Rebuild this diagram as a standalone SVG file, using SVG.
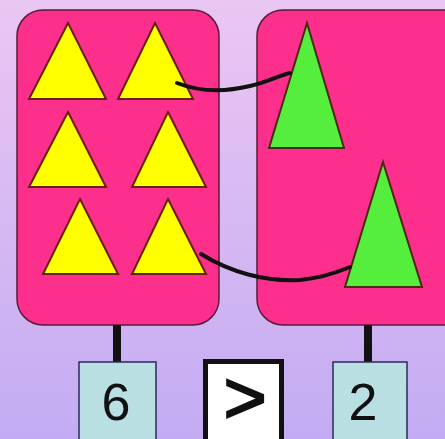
<svg xmlns="http://www.w3.org/2000/svg" width="445" height="439" viewBox="0 0 445 439">
<defs>
<linearGradient id="bg" x1="0" y1="0" x2="0" y2="1">
<stop offset="0" stop-color="#eac6f2"/>
<stop offset="1" stop-color="#c3acf3"/>
</linearGradient>
</defs>
<style>
.box{fill:#fd2f8d;stroke:#5a1a3a;stroke-width:1.5}
.yt{fill:#ffff00;stroke:#6a2010;stroke-width:2;stroke-linejoin:miter}
.gt{fill:#55ee3c;stroke:#4a2a10;stroke-width:2}
.stem{stroke:#111;stroke-width:8}
.conn{fill:none;stroke:#111;stroke-width:4;stroke-linecap:round}
.num{fill:#b9dfe2;stroke:#2a2a5a;stroke-width:1.5}
.t{font-family:"Liberation Sans",Arial,sans-serif;fill:#111;text-anchor:middle}
</style>
<rect x="0" y="0" width="445" height="439" fill="url(#bg)"/>
<g id="left-set">
<rect class="box" x="17" y="10" width="202" height="315" rx="26"/>
<polygon class="yt" points="68,23 106,99 29,99"/>
<polygon class="yt" points="155,23 193,99 118,99"/>
<polygon class="yt" points="68,112 106,187 29,187"/>
<polygon class="yt" points="168,112 206,187 132,187"/>
<polygon class="yt" points="80,199 118,274 43,274"/>
<polygon class="yt" points="168,199 206,274 132,274"/>
</g>
<g id="right-set">
<rect class="box" x="257" y="10" width="215" height="315" rx="26"/>
<polygon class="gt" points="307,23 344,148 269,148"/>
<polygon class="gt" points="383,162 422,287 345,287"/>
</g>
<g id="connectors">
<path class="conn" d="M177,83 C200,92 225,92 250,86 C268,82 280,75 290,73"/>
<path class="conn" d="M201,254 C230,272 265,282 300,280 C322,278 338,272 350,267"/>
<line class="stem" x1="117" y1="325" x2="117" y2="363"/>
<line class="stem" x1="368" y1="325" x2="368" y2="363"/>
</g>
<g id="count-left">
<rect class="num" x="79" y="362" width="77" height="90"/>
<text class="t" x="116" y="420" font-size="52">6</text>
</g>
<g id="compare">
<rect x="205.5" y="361.5" width="76" height="90" fill="#fff" stroke="#111" stroke-width="5"/>
<text class="t" x="245" y="423" font-size="74" stroke="#111" stroke-width="2">&gt;</text>
</g>
<g id="count-right">
<rect class="num" x="333" y="362" width="74" height="90"/>
<text class="t" x="363" y="420" font-size="52">2</text>
</g>
</svg>
